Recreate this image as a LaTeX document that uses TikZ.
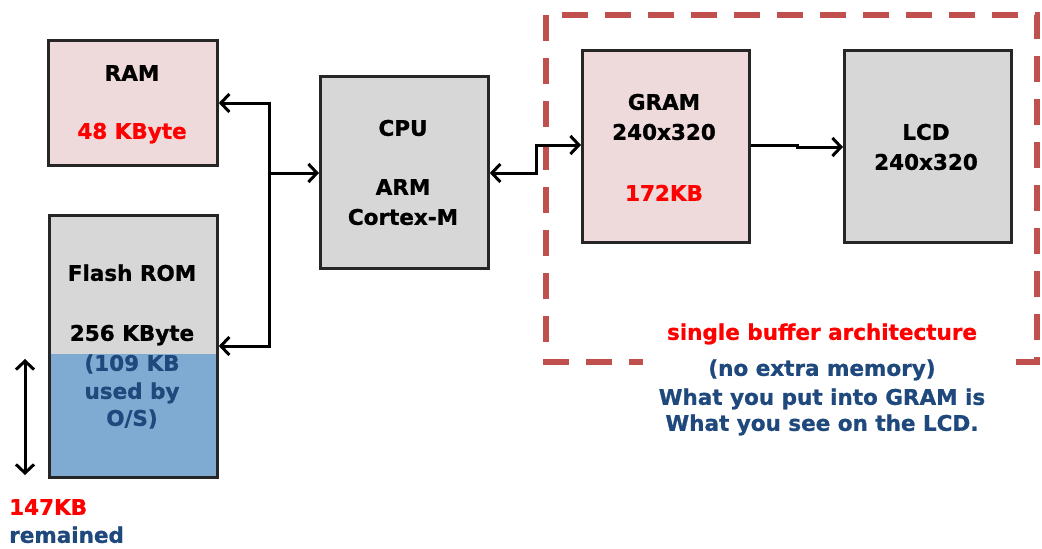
\documentclass[tikz,border=0pt]{standalone}
\usepackage{fontspec}
\setmainfont{DejaVu Sans}[BoldFeatures={FakeBold=1}]
\usetikzlibrary{arrows.meta}
\definecolor{pinkf}{HTML}{EEDADA}
\definecolor{grayf}{HTML}{D7D7D7}
\definecolor{bluef}{HTML}{7FAAD1}
\definecolor{dblue}{HTML}{1F497D}
\definecolor{dashred}{HTML}{C0504D}
\definecolor{tred}{HTML}{FF0000}
\begin{document}
\begin{tikzpicture}[x=1pt,y=-1pt,
  font=\fontsize{21.5}{25}\selectfont\bfseries,
  box/.style={draw=black!85, line width=2.8pt, anchor=north west, inner sep=0pt},
  txt/.style={anchor=base, yshift=-7.8pt, inner sep=0pt},
  ltxt/.style={anchor=base west, yshift=-7.8pt, inner sep=0pt},
  mytip/.tip={Straight Barb[length=8.5pt,width=18pt,line width=3pt]},
  conn/.style={line width=3pt, -{mytip}},
  dconn/.style={line width=3pt, {mytip}-{mytip}},
  wire/.style={line width=3pt}]
\useasboundingbox (0,0) rectangle (1042,549);
% dashed region
\draw[dashred, line width=5.5pt, dash pattern=on 26pt off 17pt] (546,15) rectangle (1037,362);
\fill[white] (643,316) rectangle (999,442);
% boxes
\node[box, fill=pinkf, minimum width=169pt, minimum height=125pt] (ram) at (47,39) {};
\node[box, fill=grayf, minimum width=168pt, minimum height=262pt,
  path picture={\fill[bluef] (path picture bounding box.south west) rectangle ([yshift=123pt]path picture bounding box.south east);}] (flash) at (48,214) {};
\node[box, fill=grayf, minimum width=168pt, minimum height=192pt] (cpu) at (319,75) {};
\node[box, fill=pinkf, minimum width=167pt, minimum height=192pt] (gram) at (581,49) {};
\node[box, fill=grayf, minimum width=167pt, minimum height=192pt] (lcd) at (843,49) {};
% texts
\node[txt] (t-ram) at (132,73) {RAM};
\node[txt, text=tred] (t-ramsz) at (132,131) {48 KByte};
\node[txt] (t-fl) at (132,273) {Flash ROM};
\node[txt] (t-flsz) at (132,333) {256 KByte};
\node[txt, text=dblue] (t-os1) at (132,363) {(109 KB};
\node[txt, text=dblue] (t-os2) at (132,391) {used by};
\node[txt, text=dblue] (t-os3) at (132,418) {O/S)};
\node[txt] (t-cpu) at (403,128) {CPU};
\node[txt] (t-arm) at (403,187) {ARM};
\node[txt] (t-ctx) at (403,217) {Cortex-M};
\node[txt] (t-gram) at (664,102) {GRAM};
\node[txt] (t-gres) at (664,132) {240x320};
\node[txt, text=tred] (t-gsz) at (664,193) {172KB};
\node[txt] (t-lcd) at (926,132) {LCD};
\node[txt] (t-lres) at (926,162) {240x320};
\node[txt, text=tred] (c1) at (822,332) {single buffer architecture};
\node[txt, text=dblue] (c2) at (822,368) {(no extra memory)};
\node[txt, text=dblue] (c3) at (822,397) {What you put into GRAM is};
\node[txt, text=dblue] (c4) at (822,423) {What you see on the LCD.};
\node[ltxt, text=tred] (r1) at (9,507) {147KB};
\node[ltxt, text=dblue] (r2) at (9,535) {remained};
% bus
\coordinate (bt) at (269,103);
\coordinate (bb) at (269,346);
\coordinate (bm) at (269,173);
\draw[wire] ([yshift=1.5pt]bt) -- ([yshift=-1.5pt]bb);
\draw[conn] (bt) -- (ram.east |- bt);
\draw[conn] (bb) -- (flash.east |- bb);
\draw[conn] (bm) -- (cpu.west |- bm);
% cpu - gram
\coordinate (j1) at (536,173);
\coordinate (j2) at (536,145);
\draw[dconn] (cpu.east |- j1) -- (j1) -- (j2) -- (gram.west |- j2);
% gram - lcd
\coordinate (k1) at (797,145);
\coordinate (k2) at (797,147);
\draw[conn] (gram.east |- k1) -- (k1) -- (k2) -- (lcd.west |- k2);
% remained arrow
\coordinate (la) at (25,359);
\coordinate (lb) at (25,475);
\draw[dconn] (la) -- (lb);
\end{tikzpicture}
\end{document}
